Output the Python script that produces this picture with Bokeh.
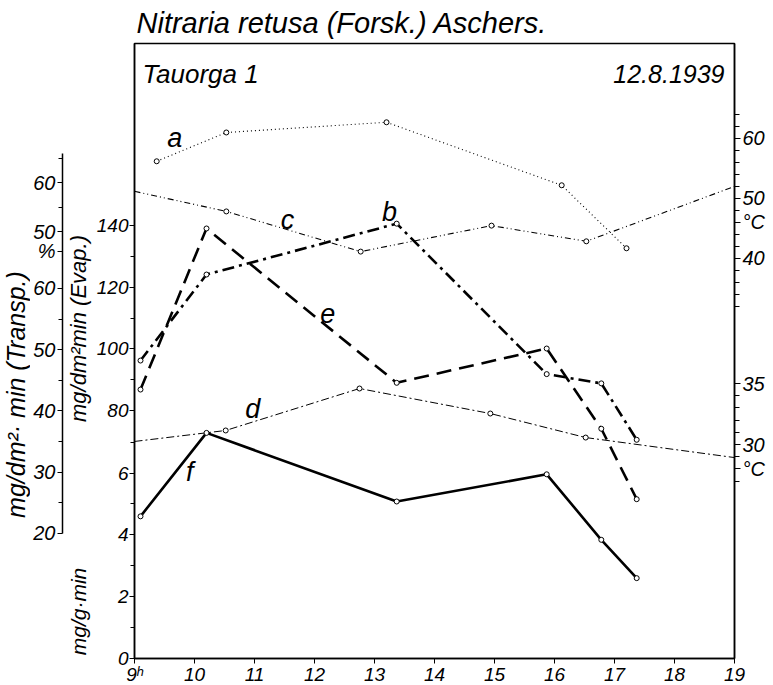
import math
from bokeh.plotting import figure
from bokeh.layouts import row
from bokeh.models import Range1d, LinearAxis, FixedTicker, Label, CustomJSTickFormatter
from bokeh.embed import file_html
from bokeh.resources import INLINE

# ---------------- data ----------------
hours = [9, 10, 11, 12, 13, 14, 15, 16, 17, 18, 19]
hour_labels = ["9\u02b0", "10", "11", "12", "13", "14", "15", "16", "17", "18", "19"]

# measurements (b, e, f share the same sampling times)
t_meas = [9.10, 10.20, 13.37, 15.87, 16.78, 17.37]
b_evap = [96.2, 124.1, 140.6, 91.8, 88.8, 70.5]        # mg/dm2 min (Evap.)
e_transp = [43.5, 69.8, 44.6, 50.2, 37.1, 25.6]       # mg/dm2 min (Transp.)
f_mg_g = [4.60, 7.30, 5.08, 5.96, 3.84, 2.60]          # mg/g min

t_a = [9.37, 10.53, 13.20, 16.12, 17.20]
a_temp = [56.2, 61.0, 62.7, 52.2, 41.7]                # deg C (upper scale)

t_c = [9.0, 10.53, 12.77, 14.95, 16.53, 19.0]
c_pct = [58.2, 54.1, 45.9, 51.2, 48.0, 59.2]           # %

t_d = [9.0, 10.52, 12.75, 14.93, 16.52, 19.0]
d_temp = [30.25, 31.15, 34.59, 32.54, 30.57, 28.93]    # deg C (lower scale)

# axis ticks and their labels
f_ticks, f_minor = [0, 2, 4, 6], [1, 3, 5, 7]
evap_ticks, evap_minor = [80, 100, 120, 140], [90, 110, 130]
transp_ticks, transp_minor = [20, 30, 40, 50, 60], [25, 35, 45, 55]
pct_ticks, pct_minor = [50, 60], [55, 65]
pct_unit_at, pct_unit = 46, "%"
tu_ticks = [40, 50, 60]
tu_minor = [32, 34, 36, 38, 42, 44, 48, 52, 54, 56, 58, 62, 64]
tu_unit_at = 46
tl_ticks = [30, 35]
tl_minor = [27, 29, 31, 32, 33, 34]
tl_unit_at = 28
deg_unit = "\u00b0C"

# scale ranges (value at frame bottom, value at frame top)
rng_f = Range1d(0.0, 19.9)
rng_evap = Range1d(-0.44, 199.04)
rng_transp = Range1d(-0.41, 100.0)
rng_pct = Range1d(-37.14, 88.37)
rng_tu = Range1d(-26.67, 75.83)
rng_tl = Range1d(12.46, 62.87)

FONT = "Liberation Sans"


def remap(vals, src, dst):
    k = (dst.end - dst.start) / (src.end - src.start)
    return [dst.start + (v - src.start) * k for v in vals]


def lookup_formatter(pos, labels):
    return CustomJSTickFormatter(args=dict(pos=pos, lab=labels), code="""
        for (let i = 0; i < pos.length; i++) {
            if (Math.abs(tick - pos[i]) < 1e-6) { return lab[i]; }
        }
        return "";
    """)


def style_axis(ax, size="20px", tick=6, standoff=2):
    ax.axis_line_color = "black"
    ax.axis_line_width = 1.5
    ax.major_tick_line_color = "black"
    ax.minor_tick_line_color = "black"
    ax.major_tick_in = 0
    ax.major_tick_out = tick
    ax.minor_tick_in = 0
    ax.minor_tick_out = tick - 1
    ax.major_label_text_font = FONT
    ax.major_label_text_font_style = "italic"
    ax.major_label_text_font_size = size
    ax.major_label_text_color = "black"
    ax.major_label_standoff = standoff


def blank(fig):
    fig.xgrid.visible = False
    fig.ygrid.visible = False
    fig.outline_line_color = None
    fig.background_fill_color = "white"
    fig.border_fill_color = "white"


def lab(fig, text, x, y, size, units="data", yr="default", angle=0.0, align="center",
        baseline="middle"):
    kw = dict(x=x, y=y, text=text, text_font=FONT, text_font_style="italic",
              text_font_size=size, text_color="black", angle=angle,
              text_align=align, text_baseline=baseline)
    if units == "screen":
        kw.update(x_units="screen", y_units="screen")
    else:
        kw.update(y_range_name=yr)
    fig.add_layout(Label(**kw))


# ================= far-left strip: Transp. title =================
pLL = figure(frame_width=30, frame_height=615, x_range=Range1d(0, 1), y_range=rng_transp,
             x_axis_location=None, y_axis_location=None,
             toolbar_location=None, output_backend="svg",
             min_border_left=0, min_border_right=0, min_border_top=42, min_border_bottom=27)
blank(pLL)
lab(pLL, "mg/dm\u00b2\u00b7 min (Transp.)", 15, 264, "25px", units="screen",
    angle=math.pi / 2)

# ================= left strip: Transp./% axis + Evap & mg/g titles =================
pL = figure(frame_width=31, frame_height=615, x_range=Range1d(0, 1), y_range=rng_transp,
            x_axis_location=None, y_axis_location=None,
            toolbar_location=None, output_backend="svg",
            min_border_left=30, min_border_right=0, min_border_top=42, min_border_bottom=27)
blank(pL)
pct_pos = remap(pct_ticks + [pct_unit_at], rng_pct, rng_transp)
pct_mpos = remap(pct_minor, rng_pct, rng_transp)
axB = LinearAxis(ticker=FixedTicker(ticks=transp_ticks + pct_pos,
                                    minor_ticks=transp_minor + pct_mpos),
                 formatter=lookup_formatter(transp_ticks + pct_pos,
                                            [str(v) for v in transp_ticks + pct_ticks] + [pct_unit]),
                 bounds=(20, remap([66], rng_pct, rng_transp)[0]))
style_axis(axB, size="20px", tick=5, standoff=2)
pL.add_layout(axB, "left")
lab(pL, "mg/dm\u00b2min (Evap.)", 16, 330, "22px", units="screen", angle=math.pi / 2)
lab(pL, "mg/g\u00b7min", 16, 47, "21px", units="screen", angle=math.pi / 2)

# ================= main plot =================
p = figure(frame_width=600, frame_height=615,
           x_range=Range1d(9, 19), y_range=rng_evap,
           x_axis_location=None, y_axis_location=None,
           toolbar_location=None, output_backend="svg",
           min_border_left=38, min_border_right=38,
           min_border_top=42, min_border_bottom=27)
p.extra_y_ranges = {"f": rng_f, "transp": rng_transp, "pct": rng_pct,
                    "tu": rng_tu, "tl": rng_tl}
p.xgrid.visible = False
p.ygrid.visible = False
p.outline_line_color = "black"
p.outline_line_width = 1.5
p.background_fill_color = "white"
p.border_fill_color = "white"

p.title.text = "Nitraria retusa (Forsk.) Aschers."
p.title.text_font = FONT
p.title.text_font_style = "italic"
p.title.text_font_size = "29px"
p.title.text_color = "black"
p.title.align = "left"
p.title.offset = 2
p.title.standoff = 9

# inner left axis: mg/g min (lower) + Evap (upper)
f_pos = remap(f_ticks, rng_f, rng_evap)
f_mpos = remap(f_minor, rng_f, rng_evap)
axA = LinearAxis(ticker=FixedTicker(ticks=evap_ticks + f_pos,
                                    minor_ticks=evap_minor + f_mpos),
                 formatter=lookup_formatter(evap_ticks + f_pos,
                                            [str(v) for v in evap_ticks + f_ticks]))
style_axis(axA, size="19px", tick=5, standoff=1)
p.add_layout(axA, "left")

# right axis: deg C upper + deg C lower
tl_pos = remap(tl_ticks + [tl_unit_at], rng_tl, rng_tu)
tl_mpos = remap(tl_minor, rng_tl, rng_tu)
axC = LinearAxis(y_range_name="tu",
                 ticker=FixedTicker(ticks=tu_ticks + [tu_unit_at] + tl_pos,
                                    minor_ticks=tu_minor + tl_mpos),
                 formatter=lookup_formatter(tu_ticks + [tu_unit_at] + tl_pos,
                                            [str(v) for v in tu_ticks] + [deg_unit]
                                            + [str(v) for v in tl_ticks] + [deg_unit]))
style_axis(axC, size="20px", tick=6, standoff=2)
p.add_layout(axC, "right")

# bottom axis: hours
axX = LinearAxis(ticker=FixedTicker(ticks=hours, minor_ticks=[]),
                 formatter=lookup_formatter(hours, hour_labels))
style_axis(axX, size="19px", tick=5, standoff=0)
p.add_layout(axX, "below")

# ---------------- curves ----------------
mk = dict(marker="circle", size=5, fill_color="white", line_color="black", line_width=1)

# a: dotted, upper deg C
p.line(t_a, a_temp, y_range_name="tu", line_color="black", line_width=1.1, line_dash="1 3")
p.scatter(t_a, a_temp, y_range_name="tu", **mk)

# c: dash-dot-dot, %
p.line(t_c, c_pct, y_range_name="pct", line_color="black", line_width=1.1,
       line_dash="6 3 1 3 1 3")
p.scatter(t_c[1:-1], c_pct[1:-1], y_range_name="pct", **mk)

# d: thin dash-dot, lower deg C
p.line(t_d, d_temp, y_range_name="tl", line_color="black", line_width=1.0,
       line_dash="8 3 2 3")
p.scatter(t_d[1:-1], d_temp[1:-1], y_range_name="tl", **mk)

# b: thick dash-dot, Evap
p.line(t_meas, b_evap, line_color="black", line_width=2.6, line_dash="12 5 3 5")
p.scatter(t_meas, b_evap, **mk)

# e: thick long dashes, Transp
p.line(t_meas, e_transp, y_range_name="transp", line_color="black", line_width=2.6,
       line_dash="15 8")
p.scatter(t_meas, e_transp, y_range_name="transp", **mk)

# f: solid, mg/g min
p.line(t_meas, f_mg_g, y_range_name="f", line_color="black", line_width=2.6)
p.scatter(t_meas, f_mg_g, y_range_name="f", **mk)

# curve letters
lab(p, "a", 9.67, 60.0, "27px", yr="tu")
lab(p, "b", 13.25, 144.5, "27px")
lab(p, "c", 11.55, 52.4, "27px", yr="pct")
lab(p, "d", 10.97, 32.95, "27px", yr="tl")
lab(p, "e", 12.22, 55.9, "27px", yr="transp")
lab(p, "f", 9.92, 6.05, "27px", yr="f")

# headings inside the frame
lab(p, "Tauorga 1", 8, 585, "26px", units="screen", align="left", baseline="alphabetic")
lab(p, "12.8.1939", 590, 585, "25px", units="screen", align="right", baseline="alphabetic")

layout = row(pLL, pL, p, spacing=0)
open("out.html", "w").write(file_html(layout, INLINE))
